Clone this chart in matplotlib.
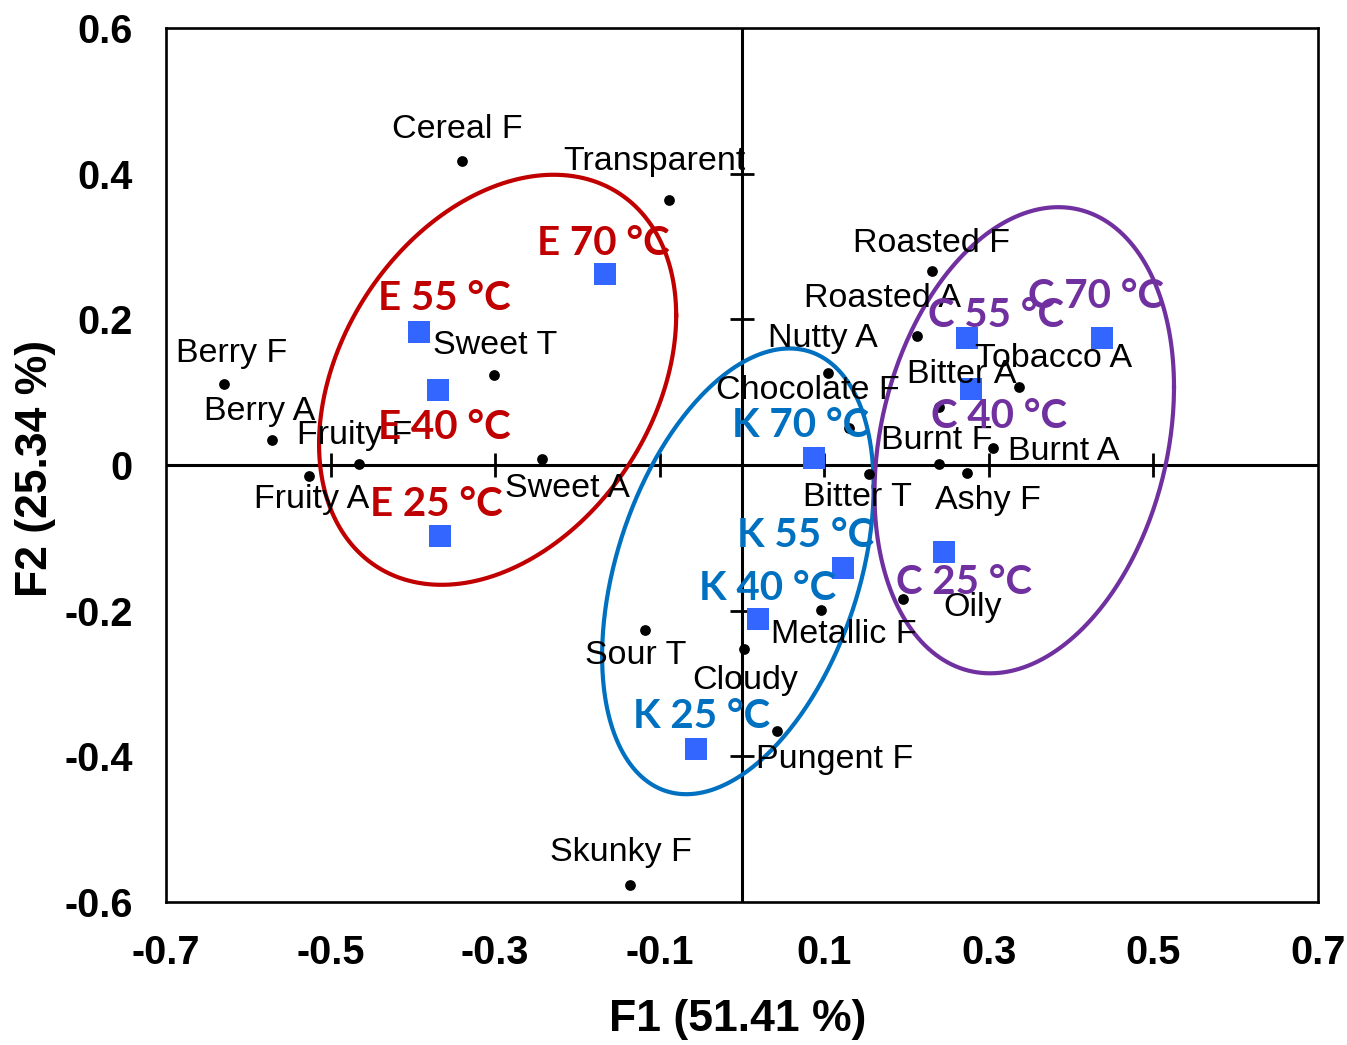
import numpy as np
import matplotlib
matplotlib.use("Agg")
import matplotlib.pyplot as plt

# sensory attributes (black dots)
attr_labels = ["Cereal F", "Transparent", "Berry F", "Berry A", "Fruity F", "Fruity A",
               "Sweet T", "Sweet A", "Roasted F", "Roasted A", "Nutty A", "Chocolate F",
               "Bitter A", "Tobacco A", "Burnt F", "Burnt A", "Ashy F", "Bitter T",
               "Oily", "Metallic F", "Sour T", "Cloudy", "Pungent F", "Skunky F"]
attr_f1 = [-0.340, -0.089, -0.629, -0.571, -0.466, -0.526,
           -0.301, -0.243, 0.231, 0.213, 0.105, 0.130,
           0.240, 0.337, 0.239, 0.305, 0.274, 0.154,
           0.196, 0.096, -0.118, 0.002, 0.043, -0.136]
attr_f2 = [0.417, 0.364, 0.111, 0.035, 0.002, -0.015,
           0.123, 0.008, 0.266, 0.177, 0.126, 0.051,
           0.079, 0.107, 0.001, 0.024, -0.011, -0.013,
           -0.184, -0.199, -0.227, -0.252, -0.365, -0.577]

# samples (blue squares)
sample_labels = ["E 70 °C", "E 55 °C", "E 40 °C", "E 25 °C",
                 "K 70 °C", "K 55 °C", "K 40 °C", "K 25 °C",
                 "C 70 °C", "C 55 °C", "C 40 °C", "C 25 °C"]
sample_f1 = [-0.166, -0.392, -0.369, -0.367,
             0.088, 0.123, 0.020, -0.056,
             0.438, 0.274, 0.278, 0.245]
sample_f2 = [0.262, 0.183, 0.103, -0.098,
             0.009, -0.142, -0.212, -0.390,
             0.174, 0.175, 0.105, -0.120]
sample_group = ["E"] * 4 + ["K"] * 4 + ["C"] * 4

# group ellipses: centre, half extents along F1/F2, tilt (cos of phase)
ell_groups = ["E", "K", "C"]
ell_cx = [-0.297, -0.005, 0.343]
ell_cy = [0.117, -0.146, 0.034]
ell_rx = [0.217, 0.165, 0.182]
ell_ry = [0.2815, 0.306, 0.320]
ell_tilt = [0.314, 0.380, 0.228]

group_color = {"E": "#C00000", "K": "#0070C0", "C": "#7030A0"}

# label offsets in pixels (dx, dy)
attr_off = [(-5, 32), (-14, 38), (7, 31), (-13, 28), (-4, 28), (2, -24),
            (1, 30), (25, -29), (-1, 28), (-35, 38), (-6, 35), (-41, 37),
            (22, 33), (34, 29), (-2, 24), (71, -4), (20, -27), (-11, -23),
            (69, -8), (23, -25), (-9, -25), (2, -32), (57, -29), (-9, 33)]
sample_off = [(-2, 31), (25, 33), (6, -38), (-4, 32),
              (-14, 33), (-38, 33), (9, 31), (6, 33),
              (-6, 42), (29, 22), (28, -28), (20, -30)]

fig = plt.figure(figsize=(13.47, 10.45), dpi=100)
ax = fig.add_axes([166 / 1347, 1 - 902 / 1045, 1152 / 1347, 874 / 1045])
ax.set_xlim(-0.7, 0.7)
ax.set_ylim(-0.6, 0.6)

for s in ax.spines.values():
    s.set_linewidth(1.9)
    s.set_color("black")

ax.axhline(0, color="black", lw=2.2, zorder=1)
ax.axvline(0, color="black", lw=2.2, zorder=1)

xt_in = [-0.5, -0.3, -0.1, 0.1, 0.3, 0.5]
yt_in = [-0.4, -0.2, 0.2, 0.4]
ax.plot(xt_in, [0] * len(xt_in), ls="none", marker="|", ms=17, mew=2, color="black", zorder=1)
ax.plot([0] * len(yt_in), yt_in, ls="none", marker="_", ms=17, mew=2, color="black", zorder=1)

xticks = [-0.7, -0.5, -0.3, -0.1, 0.1, 0.3, 0.5, 0.7]
yticks = [-0.6, -0.4, -0.2, 0, 0.2, 0.4, 0.6]
ax.set_xticks(xticks)
ax.set_xticklabels(["-0.7", "-0.5", "-0.3", "-0.1", "0.1", "0.3", "0.5", "0.7"])
ax.set_yticks(yticks)
ax.set_yticklabels(["-0.6", "-0.4", "-0.2", "0", "0.2", "0.4", "0.6"])
ax.tick_params(axis="both", length=0, labelsize=28.5)
ax.tick_params(axis="x", pad=23)
ax.tick_params(axis="y", pad=24)
for lab in ax.get_xticklabels() + ax.get_yticklabels():
    lab.set_fontweight("bold")
    lab.set_fontfamily("Liberation Sans")

# ellipses
t = np.linspace(0, 2 * np.pi, 400)
for g, cx, cy, rx, ry, c in zip(ell_groups, ell_cx, ell_cy, ell_rx, ell_ry, ell_tilt):
    phi = np.arccos(c)
    ax.plot(cx + rx * np.cos(t), cy + ry * np.cos(t - phi), color=group_color[g], lw=3.0, zorder=3)

ax.scatter(attr_f1, attr_f2, s=60, color="black", zorder=4, linewidths=0)
ax.scatter(sample_f1, sample_f2, s=230, marker="s", color="#3366FF", zorder=4, linewidths=0)

for lab, x, y, (dx, dy) in zip(attr_labels, attr_f1, attr_f2, attr_off):
    ax.annotate(lab, (x, y), xytext=(dx, dy), textcoords="offset pixels",
                ha="center", va="center", fontsize=24.5, family="Liberation Sans",
                color="black", zorder=5)

for lab, x, y, g, (dx, dy) in zip(sample_labels, sample_f1, sample_f2, sample_group, sample_off):
    ax.annotate(lab, (x, y), xytext=(dx, dy), textcoords="offset pixels",
                ha="center", va="center", fontsize=29, family="Lato", fontweight="bold",
                color=group_color[g], zorder=6)

fig.text(738 / 1347, 1 - 1020 / 1045, "F1 (51.41 %)", ha="center", va="center",
         fontsize=32, fontweight="bold", family="Liberation Sans")
fig.text(36 / 1347, 1 - 468 / 1045, "F2 (25.34 %)", ha="center", va="center", rotation=90,
         fontsize=32, fontweight="bold", family="Liberation Sans")

fig.savefig("out.png", dpi=100)
